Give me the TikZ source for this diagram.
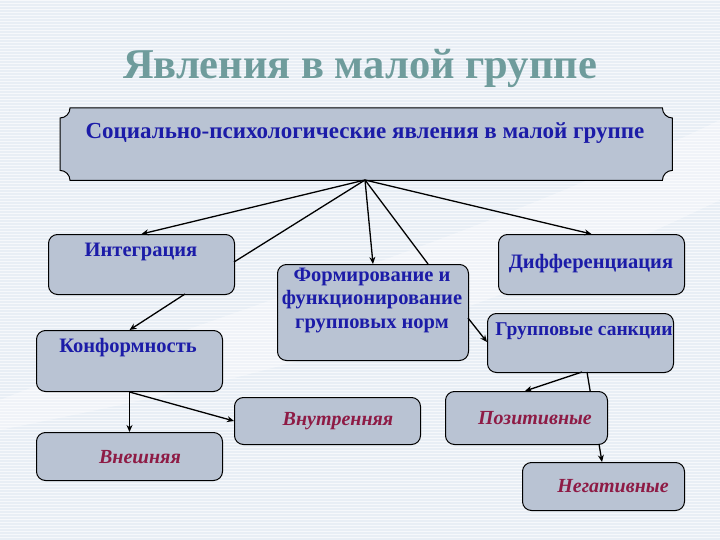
\documentclass[tikz,border=0pt]{standalone}
\usepackage{fontspec}
\setmainfont{Liberation Serif}
\usetikzlibrary{arrows.meta,calc}
\definecolor{bgc}{HTML}{E8EEF5}
\definecolor{boxfill}{HTML}{B9C3D3}
\definecolor{txtblue}{HTML}{1C1CA8}
\definecolor{txtred}{HTML}{8E1B45}
\definecolor{titlec}{HTML}{6F9C9C}
\tikzset{
  box/.style={draw=black, line width=1pt, fill=boxfill, rounded corners=9pt, inner sep=0pt, anchor=north west},
  lbl/.style={text=txtblue, font=\fontsize{20.5}{24}\selectfont\bfseries, align=center, inner sep=0pt},
  ilbl/.style={text=txtred, font=\fontsize{20}{24}\selectfont\bfseries\itshape, inner sep=0pt},
  arr/.style={line width=1.3pt, -{Stealth[length=7pt,width=6pt]}},
  ln/.style={line width=1.3pt},
}
\begin{document}
\begin{tikzpicture}[x=1pt,y=-1pt]
\useasboundingbox (0,0) rectangle (720,540);
\fill[bgc] (0,0) rectangle (720,540);
\foreach \k in {0,...,179} { \fill[white!60!bgc] (0,3*\k) rectangle (720,3*\k+1.2); }
\fill[white, opacity=0.35] (0,400) .. controls (250,300) and (450,250) .. (720,120) -- (720,200) .. controls (450,330) and (250,380) .. (0,430) -- cycle;

% title
\node[text=titlec, font=\fontsize{42.5}{46}\selectfont\bfseries] (title) at (360,68) {Явления в малой группе};

% top plaque
\node[inner sep=0pt, minimum width=612pt, minimum height=72pt, anchor=north west] (top) at (60,108) {};
\def\r{10}
\draw[line width=1pt, fill=boxfill]
  ($(top.north west)+(\r,0)$) -- ($(top.north east)+(-\r,0)$)
  .. controls ($(top.north east)+(-\r,0.55*\r)$) and ($(top.north east)+(-0.55*\r,\r)$) .. ($(top.north east)+(0,\r)$)
  -- ($(top.south east)+(0,-\r)$)
  .. controls ($(top.south east)+(-0.55*\r,-\r)$) and ($(top.south east)+(-\r,-0.55*\r)$) .. ($(top.south east)+(-\r,0)$)
  -- ($(top.south west)+(\r,0)$)
  .. controls ($(top.south west)+(\r,-0.55*\r)$) and ($(top.south west)+(0.55*\r,-\r)$) .. ($(top.south west)+(0,-\r)$)
  -- ($(top.north west)+(0,\r)$)
  .. controls ($(top.north west)+(0.55*\r,\r)$) and ($(top.north west)+(\r,0.55*\r)$) .. ($(top.north west)+(\r,0)$) -- cycle;
\node[lbl, font=\fontsize{23}{26}\selectfont\bfseries] (toptxt) at (365,133) {Социально-психологические явления в малой группе};

% sanctions, negative and the connector that runs behind Positive
\node[box, minimum width=186pt, minimum height=59pt] (sanc) at (487,313) {};
\node[box, minimum width=162pt, minimum height=48pt] (neg) at (522,462) {};
\coordinate (sancB) at (587,372);
\coordinate (negT) at (602,462);
\draw[arr] (sancB) -- (negT);

% boxes
\node[box, minimum width=186pt, minimum height=60pt] (integ) at (48,234) {};
\node[box, minimum width=186pt, minimum height=61pt] (conf) at (36,330) {};
\node[box, minimum width=186pt, minimum height=48pt] (vnesh) at (36,432) {};
\node[box, minimum width=186pt, minimum height=47pt] (vnutr) at (234,397) {};
\node[box, minimum width=191pt, minimum height=96pt] (form) at (277,264) {};
\node[box, minimum width=186pt, minimum height=60pt] (diff) at (498,234) {};
\node[box, minimum width=162pt, minimum height=53pt] (pos) at (445,391) {};

% labels
\node[lbl] (tInteg) at (141,252) {Интеграция};
\node[lbl] (tConf) at (128,348) {Конформность};
\node[ilbl] (tVnesh) at (140,457) {Внешняя};
\node[ilbl] (tVnutr) at (338,421) {Внутренняя};
\node[lbl, font=\fontsize{20.5}{23.5}\selectfont\bfseries] (tForm) at (372,300) {Формирование и\\функционирование\\групповых норм};
\node[lbl] (tDiff) at (591,264) {Дифференциация};
\node[lbl, font=\fontsize{19.5}{23}\selectfont\bfseries] (tSanc) at (584,331) {Групповые санкции};
\node[ilbl] (tPos) at (535,418) {Позитивные};
\node[ilbl] (tNeg) at (613,486) {Негативные};

% connectors
\coordinate (hub) at (365,180);
\coordinate (integE) at (234,262);
\coordinate (formT) at (428,264);
\coordinate (integB) at (185,294);
\coordinate (formE) at (468,318);
\coordinate (sancW) at (487,342);
\coordinate (sancB2) at (582,372);
\coordinate (posT) at (525,391);
\draw[arr] (hub) -- (integ.north);
\draw[ln] (hub) -- (integE);
\draw[arr] (hub) -- (form.north);
\draw[ln] (hub) -- (formT);
\draw[arr] (hub) -- (diff.north);
\draw[arr] (integB) -- (conf.north);
\draw[arr] (formE) -- (sancW);
\draw[arr] (conf.south) -- (vnesh.north);
\draw[arr] (conf.south) -- (vnutr.west);
\draw[arr] (sancB2) -- (posT);
\end{tikzpicture}
\end{document}
